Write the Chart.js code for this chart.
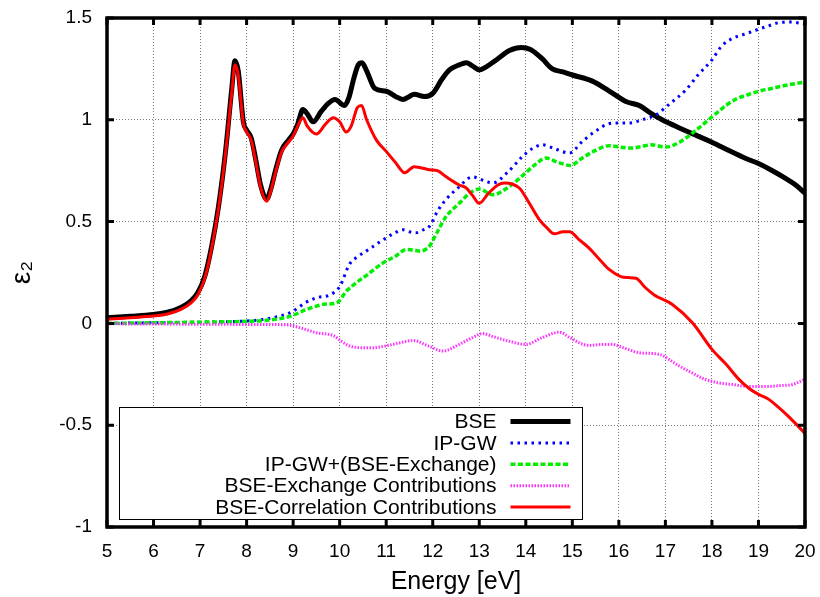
<!DOCTYPE html>
<html>
<head>
<meta charset="utf-8">
<script src="https://cdn.jsdelivr.net/npm/chart.js@4.4.1/dist/chart.umd.min.js"></script>
<style>
  html, body { margin: 0; padding: 0; background: #fff; }
  #wrap { width: 820px; height: 597px; }
</style>
</head>
<body>
<div id="wrap"><canvas id="eps"></canvas></div>
<script>
/* ------------------------------- Chart data ------------------------------- */
const seriesNames = [
  "BSE",
  "IP-GW",
  "IP-GW+(BSE-Exchange)",
  "BSE-Exchange Contributions",
  "BSE-Correlation Contributions",
];

const xTicks = [5, 6, 7, 8, 9, 10, 11, 12, 13, 14, 15, 16, 17, 18, 19, 20];
const yTicks = [-1, -0.5, 0, 0.5, 1, 1.5];

const bseX = [5.0, 5.5, 6.0, 6.3, 6.6, 6.8, 6.95, 7.1, 7.25, 7.4, 7.55, 7.68, 7.75, 7.82, 7.93, 8.0, 8.1, 8.2, 8.3, 8.43, 8.52, 8.62, 8.75, 8.9, 9.0, 9.1, 9.21, 9.3, 9.43, 9.6, 9.75, 9.9, 10.1, 10.2, 10.3, 10.4, 10.48, 10.58, 10.75, 11.0, 11.2, 11.36, 11.5, 11.6, 11.82, 12.0, 12.2, 12.36, 12.57, 12.72, 12.85, 13.0, 13.15, 13.4, 13.65, 13.9, 14.1, 14.35, 14.57, 14.8, 15.0, 15.43, 15.8, 16.15, 16.44, 16.7, 16.93, 17.3, 17.7, 18.0, 18.4, 18.73, 19.0, 19.3, 19.6, 19.8, 20.0];
const bseY = [0.028, 0.035, 0.044, 0.055, 0.08, 0.11, 0.15, 0.23, 0.38, 0.58, 0.85, 1.15, 1.29, 1.24, 0.99, 0.95, 0.91, 0.8, 0.68, 0.61, 0.66, 0.75, 0.85, 0.9, 0.93, 0.98, 1.05, 1.03, 0.99, 1.04, 1.08, 1.1, 1.07, 1.11, 1.2, 1.27, 1.28, 1.24, 1.155, 1.14, 1.115, 1.1, 1.115, 1.126, 1.114, 1.13, 1.2, 1.245, 1.27, 1.28, 1.265, 1.245, 1.26, 1.3, 1.34, 1.355, 1.345, 1.3, 1.25, 1.235, 1.22, 1.19, 1.14, 1.09, 1.07, 1.03, 1.0, 0.96, 0.92, 0.89, 0.845, 0.81, 0.785, 0.75, 0.71, 0.68, 0.64];

const ipgwX = [5.0, 6.0, 7.0, 7.5, 8.0, 8.43, 8.7, 9.0, 9.25, 9.5, 9.79, 10.0, 10.21, 10.4, 10.57, 10.93, 11.15, 11.36, 11.5, 11.64, 11.8, 11.93, 12.1, 12.29, 12.54, 12.86, 13.0, 13.29, 13.6, 13.93, 14.15, 14.36, 14.6, 14.94, 15.2, 15.44, 15.87, 16.22, 16.5, 16.8, 17.1, 17.44, 17.7, 18.0, 18.2, 18.44, 18.7, 18.94, 19.2, 19.44, 19.7, 20.0];
const ipgwY = [0.0, 0.003, 0.006, 0.008, 0.012, 0.022, 0.035, 0.06, 0.1, 0.126, 0.14, 0.18, 0.29, 0.33, 0.355, 0.41, 0.44, 0.46, 0.45, 0.445, 0.46, 0.477, 0.55, 0.61, 0.665, 0.72, 0.71, 0.69, 0.74, 0.82, 0.86, 0.877, 0.86, 0.837, 0.89, 0.935, 0.984, 0.984, 1.0, 1.025, 1.08, 1.147, 1.22, 1.294, 1.36, 1.4, 1.42, 1.44, 1.46, 1.477, 1.48, 1.47];

const ipgwExX = [5.0, 6.0, 7.0, 8.0, 8.43, 8.86, 9.0, 9.25, 9.5, 9.7, 9.93, 10.15, 10.36, 10.6, 10.93, 11.2, 11.43, 11.6, 11.72, 11.93, 12.1, 12.29, 12.57, 12.8, 13.0, 13.29, 13.65, 14.0, 14.2, 14.43, 14.7, 14.96, 15.2, 15.5, 15.79, 16.05, 16.29, 16.5, 16.69, 17.01, 17.3, 17.58, 18.01, 18.3, 18.5, 18.73, 19.0, 19.3, 19.6, 20.0];
const ipgwExY = [0.0, 0.003, 0.006, 0.01, 0.015, 0.03, 0.04, 0.065, 0.085, 0.095, 0.1, 0.16, 0.2, 0.24, 0.297, 0.33, 0.363, 0.36, 0.355, 0.38, 0.45, 0.526, 0.59, 0.64, 0.66, 0.632, 0.673, 0.74, 0.78, 0.812, 0.79, 0.776, 0.81, 0.85, 0.873, 0.865, 0.861, 0.87, 0.877, 0.866, 0.89, 0.935, 1.016, 1.07, 1.1, 1.12, 1.14, 1.155, 1.17, 1.185];

const exchX = [5.0, 6.0, 7.0, 8.0, 8.86, 9.2, 9.5, 9.86, 10.05, 10.21, 10.5, 10.71, 11.0, 11.3, 11.58, 11.9, 12.22, 12.57, 12.85, 13.07, 13.3, 13.6, 14.0, 14.35, 14.72, 14.95, 15.2, 15.36, 15.6, 15.86, 16.1, 16.44, 16.87, 17.1, 17.3, 17.55, 17.8, 18.1, 18.44, 18.8, 19.16, 19.5, 19.73, 20.0];
const exchY = [-0.002, -0.003, -0.004, -0.005, -0.007, -0.025, -0.046, -0.06, -0.09, -0.11, -0.12, -0.12, -0.11, -0.095, -0.084, -0.11, -0.136, -0.103, -0.07, -0.05, -0.065, -0.085, -0.103, -0.07, -0.043, -0.07, -0.1, -0.108, -0.104, -0.103, -0.12, -0.144, -0.152, -0.18, -0.21, -0.24, -0.27, -0.29, -0.3, -0.31, -0.31, -0.305, -0.3, -0.275];

const corrX = [5.0, 5.5, 6.0, 6.3, 6.6, 6.8, 6.95, 7.1, 7.25, 7.4, 7.55, 7.68, 7.75, 7.82, 7.93, 8.0, 8.1, 8.2, 8.3, 8.43, 8.52, 8.62, 8.75, 8.9, 9.0, 9.1, 9.21, 9.3, 9.5, 9.7, 9.86, 10.0, 10.14, 10.25, 10.38, 10.47, 10.58, 10.79, 11.0, 11.2, 11.4, 11.6, 11.93, 12.1, 12.29, 12.57, 12.72, 12.85, 13.0, 13.2, 13.4, 13.54, 13.86, 14.05, 14.29, 14.45, 14.61, 14.8, 14.94, 15.15, 15.36, 15.6, 15.79, 16.04, 16.2, 16.37, 16.55, 16.76, 17.15, 17.58, 18.01, 18.3, 18.58, 18.8, 19.01, 19.2, 19.37, 19.66, 20.0];
const corrY = [0.02, 0.028, 0.036, 0.046, 0.07, 0.1, 0.14, 0.22, 0.37, 0.57, 0.84, 1.13, 1.27, 1.22, 0.98, 0.94, 0.9, 0.79, 0.67, 0.6, 0.65, 0.74, 0.84, 0.89, 0.92, 0.97, 1.01, 0.97, 0.93, 0.98, 1.01, 0.99, 0.94, 0.97, 1.06, 1.07, 1.0, 0.9, 0.845, 0.79, 0.74, 0.77, 0.755, 0.75, 0.72, 0.68, 0.665, 0.63, 0.59, 0.64, 0.68, 0.69, 0.665, 0.6, 0.51, 0.47, 0.44, 0.45, 0.45, 0.41, 0.37, 0.31, 0.265, 0.23, 0.225, 0.222, 0.18, 0.14, 0.093, 0.003, -0.13, -0.2, -0.275, -0.32, -0.35, -0.37, -0.4, -0.46, -0.54];

/* --------------------------------- Helpers -------------------------------- */
const toPoints = (xs, ys) => xs.map((x, i) => ({ x: x, y: ys[i] }));
const FONT = "'Liberation Sans', Arial, sans-serif";

/* frame + inward ticks on all four sides, gnuplot style */
const framePlugin = {
  id: "frame",
  afterDraw(chart) {
    const { ctx, chartArea: a, scales } = chart;
    ctx.save();
    ctx.strokeStyle = "#000";
    ctx.lineWidth = 3;
    ctx.beginPath();
    xTicks.forEach((v) => {
      const px = scales.x.getPixelForValue(v);
      ctx.moveTo(px, a.bottom);
      ctx.lineTo(px, a.bottom - 7);
      ctx.moveTo(px, a.top);
      ctx.lineTo(px, a.top + 7);
    });
    yTicks.forEach((v) => {
      const py = scales.y.getPixelForValue(v);
      ctx.moveTo(a.left, py);
      ctx.lineTo(a.left + 7, py);
      ctx.moveTo(a.right, py);
      ctx.lineTo(a.right - 7, py);
    });
    ctx.stroke();
    ctx.lineWidth = 3.5;
    ctx.strokeRect(a.left, a.top, a.right - a.left, a.bottom - a.top);
    ctx.restore();
  },
};

/* key box in the lower left, text right-aligned then the line sample */
const keyPlugin = {
  id: "key",
  afterDatasetsDraw(chart) {
    const { ctx, chartArea: a } = chart;
    const boxL = a.left + 12.5;
    const boxT = a.top + 389.5;
    const boxW = 463;
    const boxH = 112;
    ctx.save();
    ctx.fillStyle = "#fff";
    ctx.fillRect(boxL, boxT, boxW, boxH);
    ctx.strokeStyle = "#000";
    ctx.lineWidth = 1;
    ctx.strokeRect(boxL, boxT, boxW, boxH);

    ctx.font = "21px " + FONT;
    ctx.textAlign = "right";
    ctx.textBaseline = "middle";
    seriesNames.forEach((name, i) => {
      const ds = chart.data.datasets[i];
      const y = boxT + 14 + i * 21.4;
      ctx.fillStyle = "#000";
      ctx.fillText(name, boxL + 377, y + 1);
      ctx.strokeStyle = ds.borderColor;
      ctx.lineWidth = ds.borderWidth;
      ctx.setLineDash(ds.borderDash || []);
      ctx.beginPath();
      ctx.moveTo(boxL + 391, y);
      ctx.lineTo(boxL + 451, y);
      ctx.stroke();
      ctx.setLineDash([]);
    });
    ctx.restore();
  },
};

/* ---------------------------------- Chart --------------------------------- */
const ctx = document.getElementById("eps").getContext("2d");
const epsChart = new Chart(ctx, {
  type: "line",
  data: {
    datasets: [
      {
        label: seriesNames[0],
        data: toPoints(bseX, bseY),
        borderColor: "#000000",
        borderWidth: 5,
        order: 5,
      },
      {
        label: seriesNames[1],
        data: toPoints(ipgwX, ipgwY),
        borderColor: "#0000ff",
        borderWidth: 3,
        borderDash: [2.5, 4.5],
        order: 4,
      },
      {
        label: seriesNames[2],
        data: toPoints(ipgwExX, ipgwExY),
        borderColor: "#00ee00",
        borderWidth: 3.5,
        borderDash: [5, 2.5],
        order: 3,
      },
      {
        label: seriesNames[3],
        data: toPoints(exchX, exchY),
        borderColor: "#ff33ff",
        borderWidth: 3,
        borderDash: [1.5, 1.5],
        order: 2,
      },
      {
        label: seriesNames[4],
        data: toPoints(corrX, corrY),
        borderColor: "#ff0000",
        borderWidth: 3,
        order: 1,
      },
    ],
  },
  options: {
    responsive: true,
    maintainAspectRatio: false,
    animation: false,
    events: [],
    elements: {
      point: { radius: 0 },
      line: { tension: 0.35, cubicInterpolationMode: "monotone", fill: false },
    },
    layout: { padding: { top: 18, right: 15, left: 0, bottom: 0 } },
    plugins: {
      legend: { display: false },
      tooltip: { enabled: false },
    },
    scales: {
      x: {
        type: "linear",
        min: 5,
        max: 20,
        afterBuildTicks: (scale) => {
          scale.ticks = xTicks.map((v) => ({ value: v }));
        },
        afterFit: (scale) => {
          scale.height = 70;
          scale.paddingLeft = 0;
          scale.paddingRight = 0;
        },
        grid: { color: "#777", lineWidth: 1, drawTicks: false },
        border: { display: false, dash: [1, 2] },
        ticks: {
          color: "#000",
          padding: 13,
          maxRotation: 0,
          font: { family: FONT, size: 19 },
        },
        title: {
          display: true,
          text: "Energy [eV]",
          color: "#000",
          font: { family: FONT, size: 25 },
          padding: { top: 0, bottom: 0 },
        },
      },
      y: {
        type: "linear",
        min: -1,
        max: 1.5,
        afterBuildTicks: (scale) => {
          scale.ticks = yTicks.map((v) => ({ value: v }));
        },
        afterFit: (scale) => {
          scale.width = 107;
          scale.paddingTop = 0;
          scale.paddingBottom = 0;
        },
        grid: { color: "#777", lineWidth: 1, drawTicks: false },
        border: { display: false, dash: [1, 2] },
        ticks: {
          color: "#000",
          padding: 15,
          font: { family: FONT, size: 19 },
          callback: (v) => String(v),
        },
        title: {
          display: true,
          text: "ε₂",
          color: "#000",
          font: { family: FONT, size: 28 },
          padding: { top: 5, bottom: 0 },
        },
      },
    },
  },
  plugins: [keyPlugin, framePlugin],
});
</script>
</body>
</html>
